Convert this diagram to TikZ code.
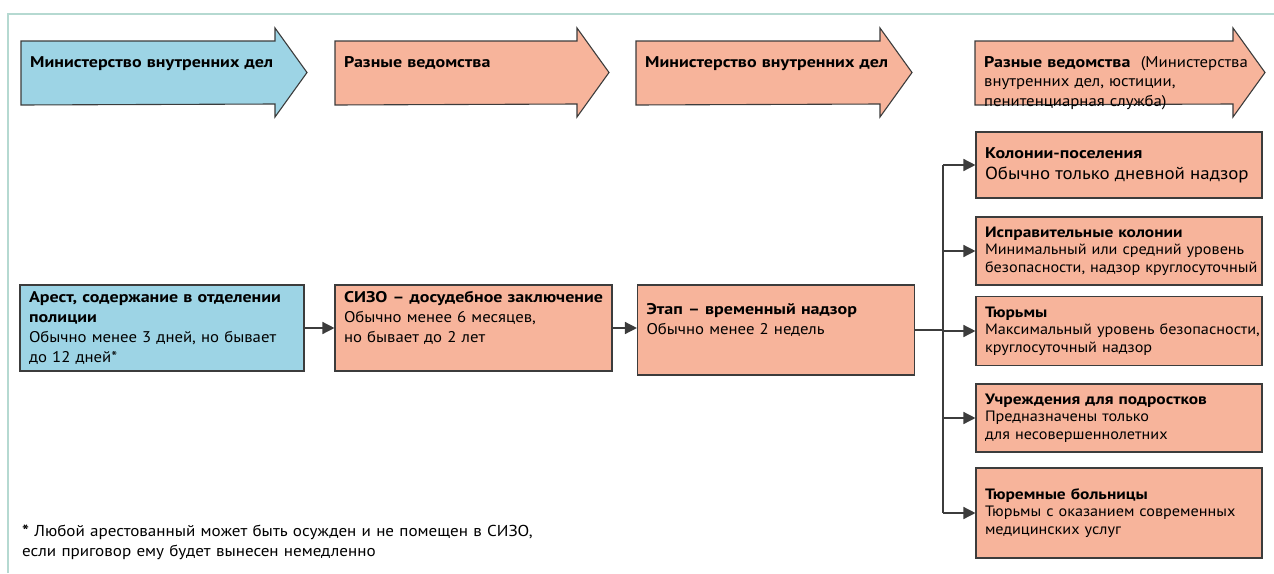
\documentclass[tikz,border=0pt]{standalone}
\usepackage{fontspec}
\setmainfont{PT Sans}[FakeStretch=1.08, BoldFeatures={FakeStretch=1.16}]
\usetikzlibrary{positioning,arrows.meta}
\definecolor{mvdblue}{HTML}{9DD4E5}
\definecolor{salmon}{HTML}{F7B49B}
\definecolor{frameteal}{HTML}{B5D9D1}
\definecolor{edge}{HTML}{3C3C3C}
\newcommand\rows[1]{\begin{tabular}{@{}l@{}}#1\end{tabular}}

\begin{document}
\begin{tikzpicture}[x=1pt, y=-1pt, >={Triangle[length=12pt,width=12pt]}, font=\fontsize{15.5}{20}\selectfont,
  hdr/.style={draw=edge, line width=1.1pt},
  hdrtext/.style={anchor=base west, align=left, text width=285pt, inner sep=0pt, font=\fontsize{15.5}{19.5}\selectfont},
  box/.style={draw=edge, line width=1.1pt, align=left, inner xsep=9pt, inner ysep=0pt},
  small/.style={font=\fontsize{15}{17.5}\selectfont},
  lifted/.style={execute at end node={\endgraf\vspace*{20pt}}},
  link/.style={->, draw=edge, line width=1.4pt}]
  \useasboundingbox (0,0) rectangle (1274,573);
  % frame
  \draw[frameteal, line width=2pt] (8,573) -- (8,14) -- (1274,14);

  % agencies on top
  \foreach \i/\x/\b/\c/\t in {1/21/275/mvdblue/{\textbf{Министерство внутренних дел}},
      2/335/577/salmon/{\textbf{Разные ведомства}},
      3/636/880/salmon/{\textbf{Министерство внутренних дел}},
      4/975/1233/salmon/{\textbf{Разные ведомства}\ \ (Министерства\\внутренних дел, юстиции,\\пенитенциарная служба)}}
  {
    \draw[hdr, fill=\c] (\x,41) -- (\b,41) -- ++(0,-13) -- ++(32,44.5) -- ++(-32,44.5) -- ++(0,-13) -- (\x,105) -- cycle;
    \node[hdrtext] (hdr\i) at (\x+9,67) {\t};
  }

  % main chain
  \node[box, fill=mvdblue, minimum width=284, minimum height=86, text width=266] (arest) at (162,328)
    {\rows{\textbf{Арест, содержание в отделении}\\\textbf{полиции}\\Обычно менее 3 дней, но бывает\\до 12 дней*}};
  \node[box, lifted, fill=salmon, minimum width=277, minimum height=86, text width=259] (sizo) at (473.5,328)
    {\rows{\textbf{СИЗО – досудебное заключение}\\Обычно менее 6 месяцев,\\но бывает до 2 лет}};
  \node[box, lifted, fill=salmon, minimum width=277, minimum height=90, text width=259] (etap) at (776,330)
    {\rows{\textbf{Этап – временный надзор}\\Обычно менее 2 недель}};

  % places of detention
  \node[box, fill=salmon, minimum width=286, minimum height=66, text width=268, font=\fontsize{15.5}{21}\selectfont] (kolpos) at (1119,165)
    {\rows{\textbf{Колонии-поселения}\\{\fontsize{17.5}{21}\selectfont Обычно только дневной надзор}}};
  \node[box, small, fill=salmon, minimum width=286, minimum height=68, text width=268] (ispkol) at (1119,251)
    {\rows{\textbf{Исправительные колонии}\\Минимальный или средний уровень\\безопасности, надзор круглосуточный}};
  \node[box, small, fill=salmon, minimum width=286, minimum height=69, text width=268] (tyurma) at (1119,331)
    {\rows{\textbf{Тюрьмы}\\Максимальный уровень безопасности,\\круглосуточный надзор}};
  \node[box, small, fill=salmon, minimum width=286, minimum height=68, text width=268] (podrost) at (1119,418)
    {\rows{\textbf{Учреждения для подростков}\\Предназначены только\\для несовершеннолетних}};
  \node[box, small, fill=salmon, minimum width=286, minimum height=90, text width=268] (bolnica) at (1119,513)
    {\rows{\textbf{Тюремные больницы}\\Тюрьмы с оказанием современных\\медицинских услуг}};

  \node[anchor=base west, align=left, text width=700pt, inner sep=0pt, font=\fontsize{15.8}{20}\selectfont] (note) at (22,536)
    {\textbf{*} Любой арестованный может быть осужден и не помещен в СИЗО,\\если приговор ему будет вынесен немедленно};

  % connectors
  \draw[link] (arest) -- (sizo);
  \draw[link] (sizo.east) -- (sizo.east -| etap.west);
  \coordinate (hub) at (943,330);
  \draw[edge, line width=1.4pt] (etap.east) -- (hub);
  \draw[edge, line width=1.4pt] (hub |- kolpos.west) -- (hub |- bolnica.west);
  \foreach \n in {kolpos,ispkol,tyurma,podrost,bolnica}
    \draw[link] (hub |- \n.west) -- (\n.west);
\end{tikzpicture}
\end{document}
